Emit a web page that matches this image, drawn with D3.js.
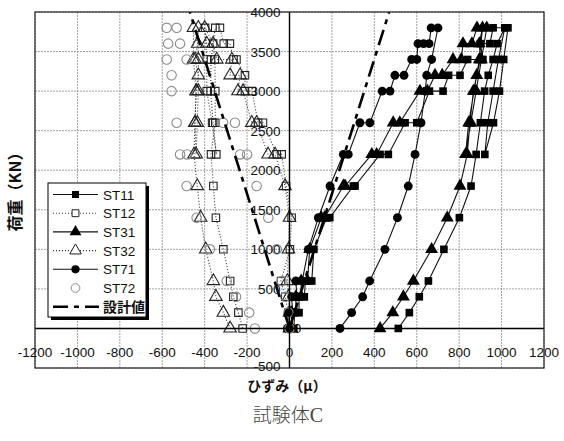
<!DOCTYPE html>
<html>
<head>
<meta charset="utf-8">
<script src="https://cdn.jsdelivr.net/npm/d3@7"></script>
<style>
  body { margin: 0; background: #fff; }
  svg { display: block; }
</style>
</head>
<body>
<svg id="chart" width="564" height="441"></svg>
<script>
// Axis ticks
const xTicks = [-1200, -1000, -800, -600, -400, -200, 0, 200, 400, 600, 800, 1000, 1200];
const yTicks = [-500, 0, 500, 1000, 1500, 2000, 2500, 3000, 3500, 4000];

// Load–strain records: [strain (μ), load (kN)]
const st11 = [
  [0,0],[20,0],[25,200],[45,200],[45,400],[70,400],[75,600],[105,600],
  [115,1000],[175,1400],[190,1400],[301,1800],[309,1800],
  [427,2200],[466,2200],[545,2600],[600,2600],[660,3000],[724,3000],
  [750,3200],[804,3200],[840,3400],[912,3400],[900,3600],[945,3600],
  [960,3800],[1030,3800],
  [1010,3400],[990,3000],[962,2600],[921,2200],
  [935,2600],[960,3000],[985,3400],[1015,3800],
  [979,3600],[960,3400],[937,3200],[920,3000],[900,2600],[880,2200],
  [856,1800],[801,1400],[728,1000],[655,600],[612,400],[565,200],[513,0]
];
const st31 = [
  [0,0],[10,0],[10,200],[30,200],[30,400],[55,400],[55,600],[85,600],
  [95,1000],[150,1400],[165,1400],[254,1800],[262,1800],
  [388,2200],[411,2200],[489,2600],[520,2600],[615,3000],[650,3000],
  [686,3200],[720,3200],[771,3400],[810,3400],[818,3600],[860,3600],
  [884,3800],[930,3800],
  [905,3400],[880,3000],[855,2600],[830,2200],
  [845,2600],[870,3000],[895,3400],[910,3800],
  [895,3600],[900,3400],[883,3200],[867,3000],[851,2600],[838,2200],
  [804,1800],[744,1400],[670,1000],[584,600],[537,400],[487,200],[427,0]
];
const st71 = [
  [0,0],[-10,0],[-5,200],[15,200],[10,400],[35,400],[30,600],[60,600],
  [89,1000],[136,1400],[191,1800],[254,2200],[277,2200],
  [332,2600],[379,2600],[437,3000],[474,3000],[497,3200],[540,3200],
  [576,3400],[600,3400],[606,3600],[632,3600],[658,3600],
  [668,3800],[700,3800],
  [670,3400],[647,3200],[640,3000],[620,2600],[592,2200],
  [560,1800],[509,1400],[450,1000],[378,600],[345,400],[293,200],[238,0]
];
const st12 = [
  [0,0],[-5,200],[-20,400],[-40,600],[2,1000],[10,1400],[-16,1800],
  [-37,2200],[-60,2200],[-125,2600],[-148,2600],[-177,3000],[-210,3000],
  [-210,3200],[-250,3400],[-264,3400],[-281,3600],[-310,3600],
  [-328,3800],[-350,3800],
  [-370,3400],[-372,3000],[-360,2600],[-345,2200],
  [-365,2600],[-390,3000],[-390,3400],[-398,3800],
  [-360,3600],[-352,3400],[-350,3000],[-350,2600],[-370,2200],
  [-359,1800],[-347,1400],[-312,1000],[-280,600],[-265,400],[-241,200],[-221,0]
];
const st32 = [
  [0,0],[0,200],[-5,400],[-10,600],[-5,1000],[0,1400],[-21,1800],
  [-68,2200],[-101,2200],[-155,2600],[-178,2600],[-219,3000],[-243,3000],
  [-233,3200],[-280,3200],[-272,3400],[-343,3400],[-360,3600],[-390,3600],
  [-400,3800],[-430,3800],
  [-430,3400],[-430,3000],[-435,2600],[-440,2200],
  [-446,2600],[-440,3000],[-453,3400],[-453,3800],
  [-433,3600],[-445,3400],[-430,3200],[-440,3000],[-446,2600],[-450,2200],
  [-435,1800],[-419,1400],[-395,1000],[-359,600],[-347,400],[-312,200],[-280,0]
];
const st72 = [
  [0,0],[-5,200],[-20,400],[-37,600],[-60,1000],[-100,1400],[-155,1800],
  [-200,2200],[-233,2200],[-257,2600],[-313,2600],
  [-485,3400],[-516,3600],[-532,3800],[-579,3800],
  [-572,3600],[-579,3400],[-556,3200],[-556,3000],[-532,2600],[-516,2200],[-483,2200],
  [-485,1800],[-438,1400],[-375,1000],[-296,600],[-252,400],[-190,200],[-163,0]
];
// Design value lines (compression and tension sides)
const designLeft = [[0,0],[-470,4000]];
const designRight = [[0,0],[470,4000]];

const legendNames = ["ST11", "ST12", "ST31", "ST32", "ST71", "ST72", "設計値"];

const svg = d3.select("#chart");
const pL = 35, pR = 544, pT = 12, pB = 368;
const x = d3.scaleLinear().domain([-1200, 1200]).range([pL, pR]);
const y = d3.scaleLinear().domain([-500, 4000]).range([pB, pT]);

const sans = "'Liberation Sans', Arial, sans-serif";
const cjk = "'Noto Sans CJK JP', sans-serif";

// plot background
svg.append("rect").attr("x", pL).attr("y", pT)
  .attr("width", pR - pL).attr("height", pB - pT).attr("fill", "#fff");

// grid
const grid = svg.append("g").attr("stroke", "#8a8a8a").attr("stroke-width", 0.8)
  .attr("stroke-dasharray", "2,1");
grid.selectAll("line.v").data(xTicks).join("line").attr("class", "v")
  .attr("x1", d => x(d)).attr("x2", d => x(d)).attr("y1", pT).attr("y2", pB);
grid.selectAll("line.h").data(yTicks).join("line").attr("class", "h")
  .attr("y1", d => y(d)).attr("y2", d => y(d)).attr("x1", pL).attr("x2", pR);

// clip for plotted data
svg.append("clipPath").attr("id", "plotclip").append("rect")
  .attr("x", pL).attr("y", pT).attr("width", pR - pL).attr("height", pB - pT);
const plot = svg.append("g").attr("clip-path", "url(#plotclip)");

const line = d3.line().x(d => x(d[0])).y(d => y(d[1]));

const series = [
  { name: "ST11", data: st11, shape: d3.symbolSquare, size: 58, fill: "#000", stroke: "none", line: "solid" },
  { name: "ST12", data: st12, shape: d3.symbolSquare, size: 56, fill: "none", stroke: "#222", line: "dot" },
  { name: "ST31", data: st31, shape: d3.symbolTriangle, size: 72, fill: "#000", stroke: "none", line: "solid" },
  { name: "ST32", data: st32, shape: d3.symbolTriangle, size: 68, fill: "none", stroke: "#222", line: "dot" },
  { name: "ST71", data: st71, shape: d3.symbolCircle, size: 62, fill: "#000", stroke: "none", line: "solid" },
  { name: "ST72", data: st72, shape: d3.symbolCircle, size: 70, fill: "none", stroke: "#8c8c8c", line: "none" }
];

function styleLine(sel, kind) {
  if (kind === "solid") sel.attr("stroke", "#111").attr("stroke-width", 1.1);
  else if (kind === "dot") sel.attr("stroke", "#333").attr("stroke-width", 1.1).attr("stroke-dasharray", "1,2");
  else sel.attr("stroke", "none");
}

// lines
series.forEach(s => {
  if (s.line === "none") return;
  plot.append("path").datum(s.data).attr("d", line).attr("fill", "none")
    .call(styleLine, s.line);
});

// markers
series.forEach(s => {
  const sym = d3.symbol().type(s.shape).size(s.size);
  plot.append("g").selectAll("path").data(s.data).join("path")
    .attr("d", sym)
    .attr("transform", d => `translate(${x(d[0])},${y(d[1])})`)
    .attr("fill", s.fill).attr("stroke", s.stroke).attr("stroke-width", 1.1);
});

// design value lines
[designLeft, designRight].forEach(d => {
  plot.append("path").datum(d).attr("d", line).attr("fill", "none")
    .attr("stroke", "#000").attr("stroke-width", 2.6)
    .attr("stroke-dasharray", "16,6,5,6");
});

// axes through the origin
svg.append("line").attr("x1", x(0)).attr("x2", x(0)).attr("y1", pT).attr("y2", pB)
  .attr("stroke", "#000").attr("stroke-width", 1.4);
svg.append("line").attr("x1", pL).attr("x2", pR).attr("y1", y(0)).attr("y2", y(0))
  .attr("stroke", "#000").attr("stroke-width", 1.4);

// frame
svg.append("rect").attr("x", pL).attr("y", pT)
  .attr("width", pR - pL).attr("height", pB - pT)
  .attr("fill", "none").attr("stroke", "#222").attr("stroke-width", 1.2);

// tick labels
svg.append("g").selectAll("text").data(xTicks).join("text")
  .attr("x", d => x(d)).attr("y", 357).attr("text-anchor", "middle")
  .attr("font-family", sans).attr("font-size", 13.5).attr("fill", "#111")
  .text(d => d);
svg.append("g").selectAll("text").data(yTicks).join("text")
  .attr("x", d => d === 0 ? x(0) + 8 : x(0) - 9)
  .attr("y", d => d === -500 ? y(d) + 3 : y(d) + 5)
  .attr("text-anchor", d => d === 0 ? "middle" : "end")
  .attr("font-family", sans).attr("font-size", 13.5).attr("fill", "#111")
  .text(d => d);

// axis titles and caption
svg.append("text").attr("x", 287).attr("y", 391).attr("text-anchor", "middle")
  .attr("font-family", cjk).attr("font-weight", "bold").attr("font-size", 14)
  .attr("fill", "#111").text("ひずみ（μ）");
svg.append("text").attr("transform", "translate(21,188) rotate(-90)")
  .attr("text-anchor", "middle").attr("font-family", cjk).attr("font-weight", "bold")
  .attr("font-size", 16).attr("fill", "#111").text("荷重（KN）");
const cap = svg.append("text").attr("x", 288).attr("y", 422).attr("text-anchor", "middle")
  .attr("font-family", cjk).attr("font-weight", 300).attr("font-size", 19)
  .attr("fill", "#444");
cap.append("tspan").text("試験体");
cap.append("tspan").attr("font-family", "'Liberation Serif', serif").attr("font-size", 20).text("C");

// legend
const lg = svg.append("g");
const lx = 48, ly = 183, lw = 98, lh = 134;
lg.append("rect").attr("x", lx + 3).attr("y", ly + 3).attr("width", lw).attr("height", lh).attr("fill", "#000");
lg.append("rect").attr("x", lx).attr("y", ly).attr("width", lw).attr("height", lh)
  .attr("fill", "#fff").attr("stroke", "#000").attr("stroke-width", 1);
const legendItems = series.map(s => ({ ...s })).concat([{ name: "設計値", design: true }]);
legendItems.forEach((s, i) => {
  const cy = 194.5 + i * 18.7;
  const g = lg.append("g");
  if (s.design) {
    g.append("line").attr("x1", 53).attr("x2", 99).attr("y1", cy).attr("y2", cy)
      .attr("stroke", "#000").attr("stroke-width", 2.6).attr("stroke-dasharray", "15,6,5,6");
  } else {
    if (s.line !== "none") {
      g.append("line").attr("x1", 53).attr("x2", 98).attr("y1", cy).attr("y2", cy)
        .attr("fill", "none").call(styleLine, s.line);
    }
    g.append("path").attr("d", d3.symbol().type(s.shape).size(s.size * 0.85)())
      .attr("transform", `translate(75.5,${cy})`)
      .attr("fill", s.fill === "none" ? "#fff" : s.fill).attr("stroke", s.stroke).attr("stroke-width", 1);
  }
  g.append("text").attr("x", 103).attr("y", cy + 5)
    .attr("font-family", s.design ? cjk : sans).attr("font-weight", s.design ? "bold" : "normal")
    .attr("font-size", s.design ? 14 : 13.5).attr("fill", "#111").text(legendNames[i]);
});
</script>
</body>
</html>
